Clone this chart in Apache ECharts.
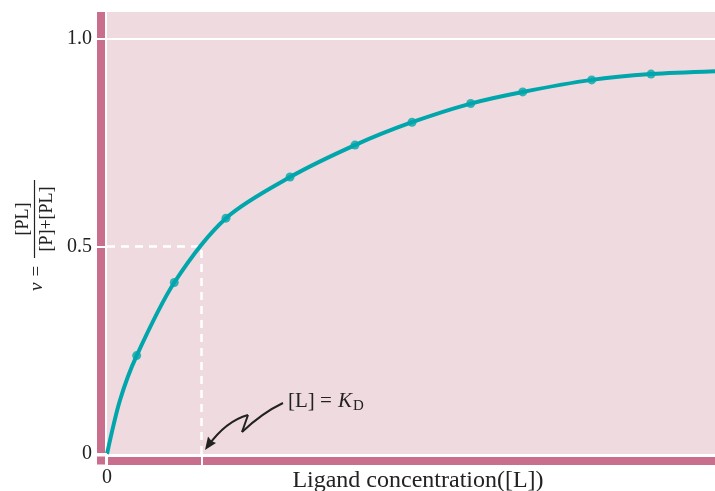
<!DOCTYPE html>
<html>
<head>
<meta charset="utf-8">
<script src="https://cdn.jsdelivr.net/npm/echarts@6/dist/echarts.min.js"></script>
<style>html,body{margin:0;padding:0;background:#fff;}#c{width:715px;height:491px;}</style>
</head>
<body>
<div id="c"></div>
<script>
// ---- data ----
// x in units of K_D, y = fractional saturation ν
var pointX = [0.314, 0.712, 1.259, 1.937, 2.624, 3.228, 3.849, 4.399, 5.129, 5.757];
var pointY = [0.237, 0.413, 0.568, 0.667, 0.744, 0.799, 0.844, 0.872, 0.901, 0.915];
// curve (includes the origin and the right edge)
var curveX = [0, 0.138, 0.314, 0.712, 1.259, 1.937, 2.624, 3.228, 3.849, 4.399, 5.129, 5.757, 6.434];
var curveY = [0, 0.130, 0.237, 0.413, 0.568, 0.667, 0.744, 0.799, 0.844, 0.872, 0.901, 0.915, 0.922];
var kdX = [0, 1, 1];
var kdY = [0.5, 0.5, 0];
var yTicks = [0, 0.5, 1];
var yTickLabels = ['0', '0.5', '1.0'];
var xTicks = [0, 1];
var xTickLabels = ['0', ''];
var xTitle = 'Ligand concentration([L])';

var PINK = '#efdbdf', BAR = '#c96e8c', TEAL = '#00a6ab', INK = '#222';
var SERIF = '"Liberation Serif", "DejaVu Serif", serif';

function zip(a, b) { return a.map(function (v, i) { return [v, b[i]]; }); }

var chart = echarts.init(document.getElementById('c'), null, {renderer: 'canvas'});
var option = {
  animation: false,
  grid: {left: 107, right: 0, top: 12, bottom: 37, show: true, backgroundColor: PINK, borderWidth: 0,
         containLabel: false, outerBoundsMode: 'none'},
  xAxis: [
    {type: 'value', min: 0, max: 6.434, offset: 7, position: 'bottom',
     axisLine: {show: true, onZero: false, lineStyle: {color: BAR, width: 8, cap: 'butt'}},
     axisTick: {show: false}, axisLabel: {show: false}, splitLine: {show: false}},
    {type: 'value', min: 0, max: 6.434, offset: 0, position: 'bottom', z: 5,
     axisLine: {show: false, onZero: false},
     axisTick: {show: true, inside: false, length: 11, customValues: xTicks, lineStyle: {color: '#fff', width: 2}},
     axisLabel: {show: true, customValues: xTicks, margin: 14, color: INK, fontFamily: SERIF, fontSize: 20,
       formatter: function (v) { var i = xTicks.indexOf(v); return i >= 0 ? xTickLabels[i] : ''; }},
     splitLine: {show: false},
     name: xTitle, nameLocation: 'middle', nameGap: 15, nameMoveOverlap: false,
     nameTextStyle: {color: INK, fontFamily: SERIF, fontSize: 24, padding: [0, 0, 0, 14]}}
  ],
  yAxis: [
    {type: 'value', min: 0, max: 1.0645, offset: 6, position: 'left',
     axisLine: {show: true, onZero: false, lineStyle: {color: BAR, width: 8, cap: 'butt'}},
     axisTick: {show: false}, axisLabel: {show: false}, splitLine: {show: false}},
    {type: 'value', min: 0, max: 1.0645, offset: 0, position: 'left', z: 5,
     axisLine: {show: false, onZero: false},
     axisTick: {show: true, inside: false, length: 11, customValues: yTicks, lineStyle: {color: '#fff', width: 2}},
     axisLabel: {show: true, customValues: yTicks, margin: 15, color: INK, fontFamily: SERIF, fontSize: 20,
       formatter: function (v) { var i = yTicks.indexOf(v); return i >= 0 ? yTickLabels[i] : ''; }},
     splitLine: {show: false}}
  ],
  series: [
    {type: 'line', xAxisIndex: 1, yAxisIndex: 1, data: zip(kdX, kdY), symbol: 'none', z: 2,
     lineStyle: {color: '#fff', width: 2.5, type: [8, 6]}, silent: true,
     markLine: {silent: true, symbol: 'none', label: {show: false},
       lineStyle: {color: '#fff', width: 2, type: 'solid'}, data: [{yAxis: 1}]}},
    {type: 'line', xAxisIndex: 1, yAxisIndex: 1, data: zip(curveX, curveY), symbol: 'none', smooth: 0.3,
     z: 3, lineStyle: {color: TEAL, width: 4}, silent: true},
    {type: 'scatter', xAxisIndex: 1, yAxisIndex: 1, data: zip(pointX, pointY), symbol: 'circle', symbolSize: 9,
     z: 4, itemStyle: {color: TEAL}, silent: true}
  ],
  graphic: [
    // corner piece joining the two axis bars
    {type: 'rect', shape: {x: 97, y: 456.5, width: 8, height: 8}, style: {fill: BAR}, z: 1},
    // y-axis title, rotated
    {type: 'group', x: 34.5, y: 235, rotation: Math.PI / 2, children: [
      {type: 'text', x: -43, y: 2, style: {text: 'ν =', font: 'italic 19px ' + SERIF, fill: INK, align: 'center', verticalAlign: 'middle'}},
      {type: 'text', x: 16, y: -11, style: {text: '[PL]', font: '18px ' + SERIF, fill: INK, align: 'center', verticalAlign: 'middle'}},
      {type: 'line', shape: {x1: -23, y1: 0, x2: 55, y2: 0}, style: {stroke: INK, lineWidth: 1.2}},
      {type: 'text', x: 16, y: 13, style: {text: '[P]+[PL]', font: '18px ' + SERIF, fill: INK, align: 'center', verticalAlign: 'middle'}}
    ]},
    // annotation
    {type: 'text', x: 288, y: 401, style: {text: '[L] =', font: '21px ' + SERIF, fill: INK, verticalAlign: 'middle'}, z: 10},
    {type: 'text', x: 338, y: 401, style: {text: 'K', font: 'italic 21px ' + SERIF, fill: INK, verticalAlign: 'middle'}, z: 10},
    {type: 'text', x: 353, y: 406, style: {text: 'D', font: '15px ' + SERIF, fill: INK, verticalAlign: 'middle'}, z: 10},
    {type: 'bezierCurve', shape: {x1: 283, y1: 403, cpx1: 262, cpy1: 413, x2: 242, y2: 432},
     style: {stroke: INK, lineWidth: 2, fill: null}, z: 10},
    {type: 'line', shape: {x1: 242, y1: 432, x2: 248, y2: 415}, style: {stroke: INK, lineWidth: 2}, z: 10},
    {type: 'bezierCurve', shape: {x1: 248, y1: 415, cpx1: 226, cpy1: 421, x2: 208, y2: 446},
     style: {stroke: INK, lineWidth: 2, fill: null}, z: 10},
    {type: 'polygon', shape: {points: [[205, 450], [216, 443], [211.5, 441], [208, 436.5]]}, style: {fill: INK}, z: 10}
  ]
};
chart.setOption(option);
</script>
</body>
</html>
